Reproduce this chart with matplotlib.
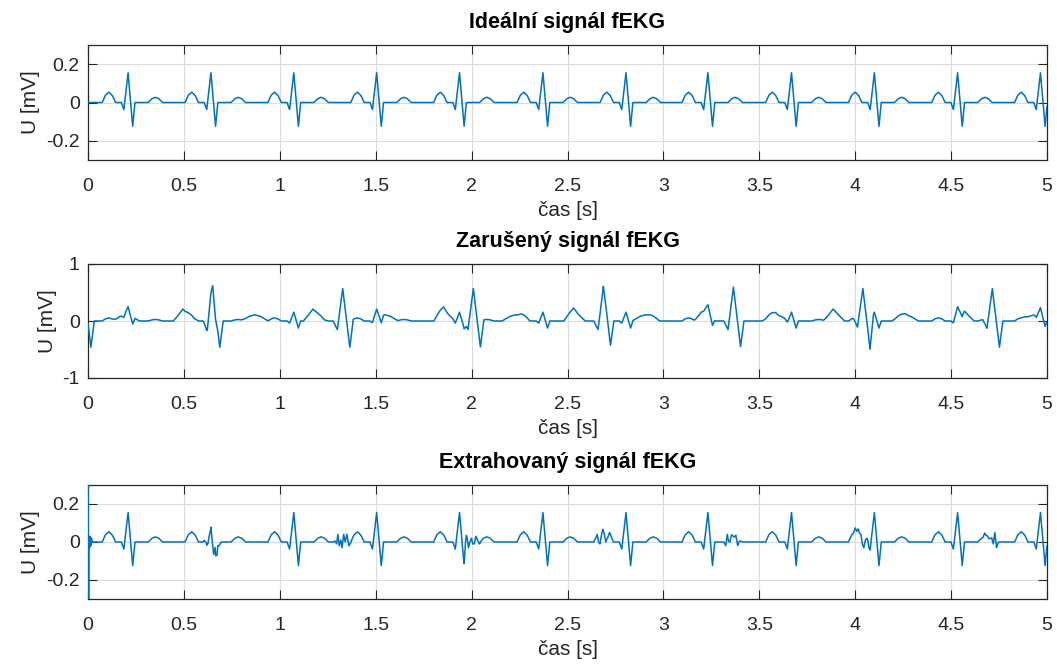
import numpy as np
import matplotlib
matplotlib.use("Agg")
import matplotlib.pyplot as plt

# ---------------- data ----------------
# fetal beats: R-peak times [s] and one beat shape (offset from R [s], value [mV])
fetal_r_times = [0.209, 0.641, 1.073, 1.505, 1.937, 2.372, 2.805, 3.232, 3.668, 4.100, 4.534, 4.966]
fetal_offsets = [-0.135, -0.118, -0.100, -0.082, -0.065, -0.035, -0.022, 0.000, 0.024, 0.036,
                 0.105, 0.125, 0.142, 0.160, 0.180]
fetal_values = [0.0, 0.038, 0.054, 0.036, 0.0, 0.0, -0.037, 0.155, -0.124, 0.0,
                0.0, 0.020, 0.027, 0.020, 0.0]

# maternal beats (present in the noisy recording)
maternal_r_times = [-0.022, 0.650, 1.328, 2.009, 2.687, 3.365, 4.040, 4.715]
maternal_offsets = [-0.205, -0.180, -0.155, -0.125, -0.095, -0.050, -0.028, 0.000, 0.037, 0.055,
                    0.150, 0.190, 0.220, 0.250, 0.290]
maternal_values = [0.0, 0.10, 0.21, 0.10, 0.0, 0.0, -0.15, 0.57, -0.46, 0.0,
                   0.0, 0.08, 0.11, 0.08, 0.0]

# residual artefacts left in the extracted signal around maternal QRS complexes
residual_times = [0.650, 1.328, 2.009, 2.687, 3.365, 4.040, 4.715]
residual_offsets = [-0.050, -0.040, -0.032, -0.025, -0.018, -0.010, -0.003, 0.005, 0.013, 0.022, 0.032, 0.045]
residual_values = [
    [0.0, 0.015, 0.027, -0.024, -0.045, -0.078, -0.074, -0.056, 0.072, -0.019, -0.020, 0.0],
    [0.0, 0.005, -0.010, 0.040, -0.020, 0.010, -0.030, 0.040, 0.000, 0.040, -0.020, 0.0],
    [0.0, 0.050, 0.020, -0.030, 0.000, 0.020, -0.010, -0.010, 0.030, 0.010, -0.010, 0.0],
    [0.0, 0.020, 0.040, 0.000, -0.010, 0.020, 0.035, 0.000, -0.050, -0.030, 0.010, 0.0],
    [0.0, -0.020, 0.040, 0.000, -0.010, 0.020, 0.010, 0.000, 0.010, -0.040, -0.010, 0.0],
    [0.0, 0.020, 0.010, 0.030, 0.020, 0.030, -0.010, -0.030, 0.010, 0.020, -0.010, 0.0],
    [0.0, 0.020, 0.010, 0.010, 0.000, 0.010, 0.020, -0.010, 0.050, -0.030, 0.000, 0.0],
]
# filter start-up transient of the extracted signal
start_t = [0.000, 0.003, 0.005, 0.008, 0.011, 0.014, 0.018, 0.023]
start_v = [0.60, -0.60, 0.030, -0.030, 0.030, -0.020, 0.020, 0.0]

t_range = [0.0, 5.0]
titles = ["Ideální signál fEKG", "Zarušený signál fEKG", "Extrahovaný signál fEKG"]
x_label = "čas [s]"
y_label = "U [mV]"
x_ticks = [0, 0.5, 1, 1.5, 2, 2.5, 3, 3.5, 4, 4.5, 5]
x_tick_labels = ["0", "0.5", "1", "1.5", "2", "2.5", "3", "3.5", "4", "4.5", "5"]
y_limits = [(-0.3, 0.3), (-1, 1), (-0.3, 0.3)]
y_ticks = [[-0.2, 0, 0.2], [-1, 0, 1], [-0.2, 0, 0.2]]
y_tick_labels = [["-0.2", "0", "0.2"], ["-1", "0", "1"], ["-0.2", "0", "0.2"]]


# ---------------- assemble the polylines from the read pieces ----------------
def pieces(times, offsets, values):
    out = []
    for k, r in enumerate(times):
        vals = values[k] if np.ndim(values) == 2 else values
        out.append((r + np.asarray(offsets, float), np.asarray(vals, float)))
    return out


def combine(parts):
    knots = np.concatenate([p[0] for p in parts] + [np.asarray(t_range)])
    knots = np.unique(knots[(knots >= t_range[0]) & (knots <= t_range[1])])
    y = np.zeros_like(knots)
    for pt, pv in parts:
        y += np.interp(knots, pt, pv, left=0.0, right=0.0)
    return knots, y


fetal_parts = pieces(fetal_r_times, fetal_offsets, fetal_values)
maternal_parts = pieces(maternal_r_times, maternal_offsets, maternal_values)
residual_parts = pieces(residual_times, residual_offsets, residual_values)
start_part = [(np.asarray(start_t), np.asarray(start_v))]

signals = [
    combine(fetal_parts),
    combine(fetal_parts + maternal_parts),
    combine(fetal_parts + residual_parts + start_part),
]

# ---------------- drawing ----------------
plt.rcParams["font.family"] = ["Liberation Sans", "DejaVu Sans"]
plt.rcParams["axes.unicode_minus"] = False

W, H = 1057, 666
fig = plt.figure(figsize=(W / 100, H / 100), dpi=100)
axes_px = [(88, 45, 1047, 160), (88, 264, 1047, 378), (88, 485, 1047, 599)]
line_color = "#0072BD"
dark = "#262626"

for i, (x0, y0, x1, y1) in enumerate(axes_px):
    ax = fig.add_axes([x0 / W, 1 - y1 / H, (x1 - x0) / W, (y1 - y0) / H])
    t, v = signals[i]
    ax.plot(t, v, color=line_color, lw=1.1, zorder=3)
    ax.set_xlim(t_range)
    ax.set_ylim(y_limits[i])
    ax.set_xticks(x_ticks)
    ax.set_xticklabels(x_tick_labels)
    ax.set_yticks(y_ticks[i])
    ax.set_yticklabels(y_tick_labels[i])
    ax.grid(True, color="#dcdcdc", lw=0.8)
    ax.set_axisbelow(True)
    ax.tick_params(direction="in", top=True, right=True, length=6.5, width=0.8,
                   colors=dark, labelsize=14)
    ax.tick_params(axis="x", pad=13)
    ax.tick_params(axis="y", pad=6)
    for s in ax.spines.values():
        s.set_color(dark)
        s.set_linewidth(0.9)
    ax.set_title(titles[i], fontsize=15.5, fontweight="bold", color="black", pad=12)
    ax.set_xlabel(x_label, fontsize=15, color=dark, labelpad=4)
    ax.set_ylabel(y_label, fontsize=15, color=dark, labelpad=4)

fig.savefig("out.png", dpi=100)
